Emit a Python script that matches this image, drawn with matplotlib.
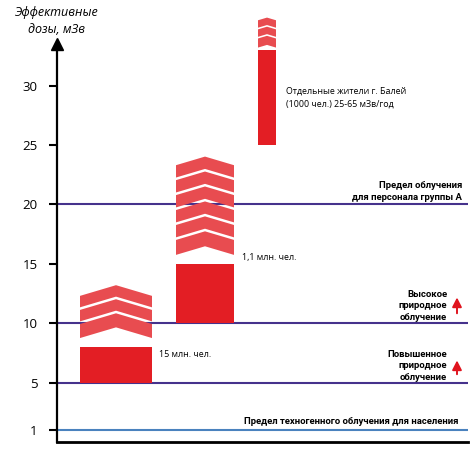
import matplotlib
matplotlib.use("Agg")
import matplotlib.pyplot as plt
from matplotlib.patches import Polygon, Rectangle

plt.rcParams['font.family'] = ['Open Sans', 'DejaVu Sans']

# ---- data ----
groups = ['15 млн. чел.', '1,1 млн. чел.', 'Отдельные жители г. Балей\n(1000 чел.) 25-65 мЗв/год']
solid_low = [5, 10, 25]
solid_high = [8, 15, 33]
chev_bottom = [8.75, 15.75, 33.2]
chev_top = [12.3, 23.3, 35.5]
chev_count = [3, 6, 3]

limit_values = [20, 10, 5, 1]
limit_labels = ['Предел облучения\nдля персонала группы А',
                'Высокое\nприродное\nоблучение',
                'Повышенное\nприродное\nоблучение',
                'Предел техногенного облучения для населения']
yticks = [1, 5, 10, 15, 20, 25, 30]
y_title = 'Эффективные\nдозы, мЗв'

# ---- layout (pixel-based x coordinates) ----
W, H = 475, 450
x_axis_px, x_end_px, y0_px = 57, 468, 442
px_per_unit = 11.88
bar_left = [80, 176, 258]
bar_right = [152, 234, 276]
label_xy = [(159, 7.4), (242, 15.5), (286, 29.0)]

RED = '#E31E24'
CHEV = '#E84C50'
PURPLE = '#46328C'
BLUE = '#4A82BE'
BOLD_FONT = ['Roboto', 'DejaVu Sans']

fig = plt.figure(figsize=(W / 100, H / 100), dpi=100)
ax = fig.add_axes([x_axis_px / W, (H - y0_px) / H, (x_end_px - x_axis_px) / W, y0_px / H])
ax.set_xlim(x_axis_px, x_end_px)
ax.set_ylim(0, y0_px / px_per_unit)

for s in ['top', 'right']:
    ax.spines[s].set_visible(False)
ax.spines['bottom'].set_linewidth(2)
ax.spines['left'].set_linewidth(1.6)
ax.spines['left'].set_bounds(0, 33.2)
ax.plot([x_axis_px], [33.5], marker='^', color='black', markersize=8, clip_on=False, zorder=5)

ax.set_yticks(yticks)
ax.set_yticklabels([str(v) for v in yticks], fontsize=9.5)
ax.tick_params(axis='y', direction='out', length=6, width=1.5, pad=8)
ax.set_xticks([])

# threshold lines
for v in limit_values:
    ax.axhline(v, color=BLUE if v == 1 else PURPLE, lw=1.5, zorder=1)

slope = 0.025
for i in range(3):
    x0, x1 = bar_left[i], bar_right[i]
    xc = (x0 + x1) / 2
    ax.add_patch(Rectangle((x0, solid_low[i]), x1 - x0, solid_high[i] - solid_low[i],
                           facecolor=RED, edgecolor='none', zorder=3))
    n = chev_count[i]
    period = (chev_top[i] - chev_bottom[i]) / n
    gap = 0.22 if i < 2 else 0.14
    p = slope * (x1 - x0) / 2
    for k in range(n):
        yb = chev_bottom[i] + k * period + (gap if k > 0 else 0)
        yt = chev_bottom[i] + (k + 1) * period
        poly = [(x0, yb), (xc, yb + p), (x1, yb), (x1, yt), (xc, yt + p), (x0, yt)]
        ax.add_patch(Polygon(poly, closed=True, facecolor=CHEV, edgecolor='none', zorder=3))
    lx, ly = label_xy[i]
    ax.text(lx, ly, groups[i], fontsize=6.4, ha='left', va='center', linespacing=1.55)

# limit labels
ax.text(462, 21.1, limit_labels[0], fontsize=6.8, fontweight='bold', ha='right', va='center',
        multialignment='right', linespacing=1.45, family=BOLD_FONT)
ax.text(447, 11.45, limit_labels[1], fontsize=6.8, fontweight='bold', ha='right', va='center',
        multialignment='right', linespacing=1.35, family=BOLD_FONT)
ax.text(447, 6.4, limit_labels[2], fontsize=6.8, fontweight='bold', ha='right', va='center',
        multialignment='right', linespacing=1.35, family=BOLD_FONT)
ax.text(458, 1.7, limit_labels[3], fontsize=6.8, fontweight='bold', ha='right', va='center',
        family=BOLD_FONT)

for y_from, y_to in [(10.6, 12.4), (5.47, 7.1)]:
    ax.annotate('', xy=(457, y_to), xytext=(457, y_from),
                arrowprops=dict(arrowstyle='-|>,head_length=0.55,head_width=0.28', color='#E0141E', lw=1.4))

fig.text(57 / W, 1 - 21 / H, y_title, fontsize=9, style='italic', ha='center', va='center',
         linespacing=1.4)

fig.savefig('out.png', dpi=100)
